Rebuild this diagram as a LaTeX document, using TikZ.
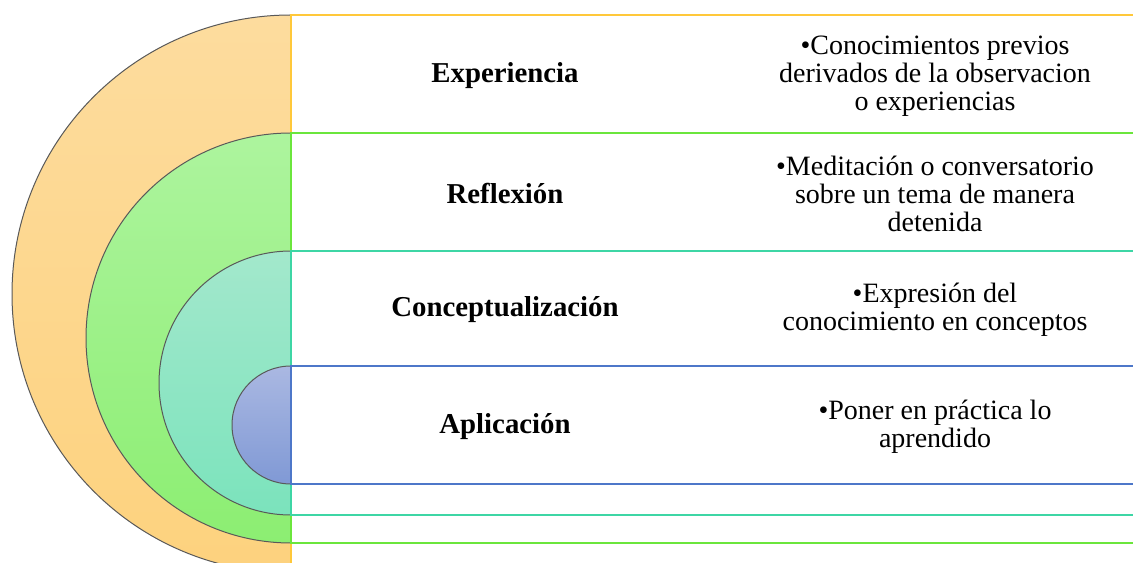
\documentclass[tikz,border=0pt]{standalone}
\usepackage{fontspec}
\setmainfont{Liberation Serif}
\usepackage{xcolor}
\usepackage{tikz}
\usetikzlibrary{positioning}

\definecolor{naranjaA}{HTML}{FDDC9E}
\definecolor{naranjaB}{HTML}{FDD27E}
\definecolor{naranjaL}{HTML}{FFC83A}
\definecolor{verdeA}{HTML}{ADF49E}
\definecolor{verdeB}{HTML}{8CEE72}
\definecolor{verdeL}{HTML}{6BE63C}
\definecolor{tealA}{HTML}{A3E8CC}
\definecolor{tealB}{HTML}{7BE3BC}
\definecolor{tealL}{HTML}{3DD6A5}
\definecolor{azulA}{HTML}{AAB8E2}
\definecolor{azulB}{HTML}{8099D5}
\definecolor{azulL}{HTML}{4D77C9}

\begin{document}
\begin{tikzpicture}[x=0.5pt,y=0.5pt,
	arco/.style={draw=black!65,line width=0.5pt},
	banda/.style={fill=white,line width=0.8pt},
	lbl/.style={font=\fontsize{14.4}{14}\selectfont\bfseries,align=center},
	txt/.style={font=\fontsize{14}{14}\selectfont,align=center}]
		\useasboundingbox (0,0) rectangle (1133,562);
		\clip (0,0) rectangle (1133,562);
		% Experiencia
		\shade[top color=naranjaA,bottom color=naranjaB] (291,547) arc (90:270:279) -- cycle;
		\draw[arco] (291,547) arc (90:270:279);
		\draw[banda,draw=naranjaL] (291,-11) rectangle (1140,547);
		% Reflexion
		\shade[top color=verdeA,bottom color=verdeB] (291,429) arc (90:270:205) -- cycle;
		\draw[arco] (291,429) arc (90:270:205);
		\draw[banda,draw=verdeL] (291,19) rectangle (1140,429);
		% Conceptualizacion
		\shade[top color=tealA,bottom color=tealB] (291,311) arc (90:270:132) -- cycle;
		\draw[arco] (291,311) arc (90:270:132);
		\draw[banda,draw=tealL] (291,47) rectangle (1140,311);
		% Aplicacion
		\shade[top color=azulA,bottom color=azulB] (291,196) arc (90:270:59) -- cycle;
		\draw[arco] (291,196) arc (90:270:59);
		\draw[banda,draw=azulL] (291,78) rectangle (1140,196);
		
		\node[lbl] (lblExp) at (505,486) {Experiencia};
		\node[lbl] (lblRef) at (505,368) {Reflexión};
		\node[lbl] (lblCon) at (505,252) {Conceptualización};
		\node[lbl] (lblApl) at (505,135) {Aplicación};
		
		\node[txt] (txtExp) at (935,486) {•Conocimientos previos\\derivados de la observacion\\o experiencias};
		\node[txt] (txtRef) at (935,368) {•Meditación o conversatorio\\sobre un tema de manera\\detenida};
		\node[txt] (txtCon) at (935,252) {•Expresión del\\conocimiento en conceptos};
		\node[txt] (txtApl) at (935,135) {•Poner en práctica lo\\aprendido};
	\end{tikzpicture}
\end{document}
